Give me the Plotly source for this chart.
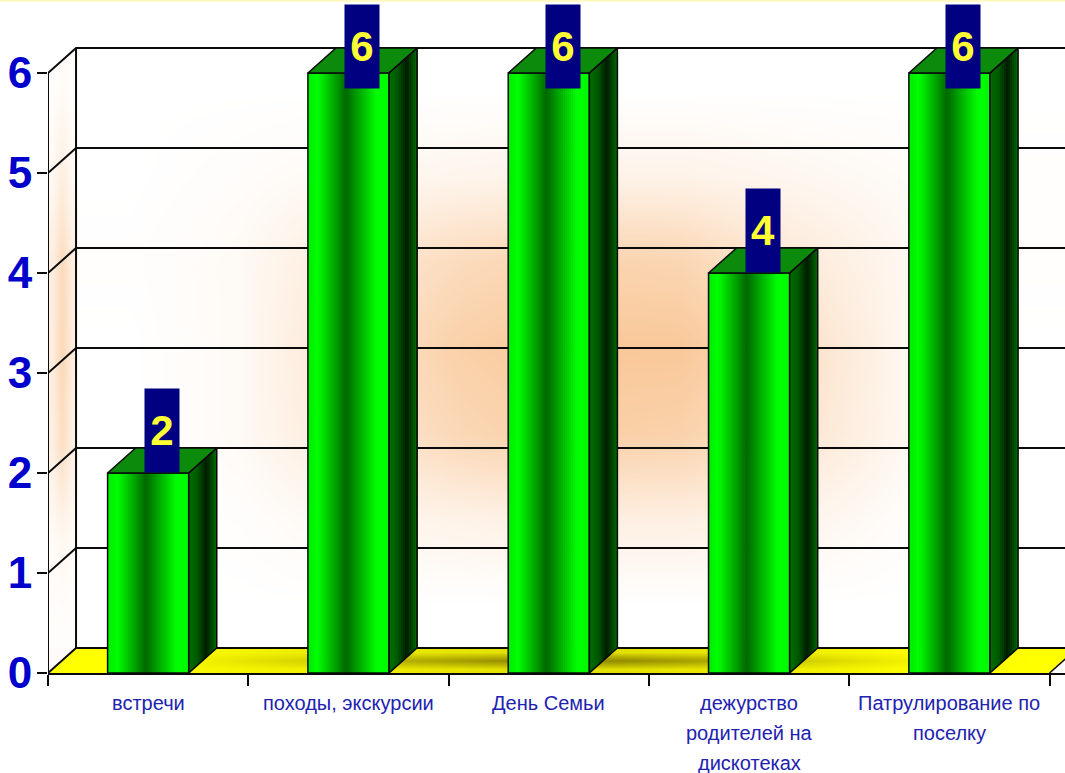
import numpy as np
import plotly.graph_objects as go

categories = ["встречи", "походы, экскурсии", "День Семьи",
              "дежурство<br>родителей на<br>дискотеках", "Патрулирование по<br>поселку"]
values = [2, 6, 6, 4, 6]
y_ticks = [0, 1, 2, 3, 4, 5, 6]

# hand-estimated glow on the back wall, bottom row first
wall_glow = [
    [0.00, 0.00, 0.00, 0.00, 0.00, 0.00, 0.00, 0.00, 0.00],
    [0.00, 0.03, 0.15, 0.22, 0.28, 0.28, 0.20, 0.05, 0.00],
    [0.00, 0.10, 0.42, 0.72, 0.88, 0.82, 0.50, 0.15, 0.00],
    [0.00, 0.10, 0.50, 0.85, 1.00, 1.00, 0.60, 0.15, 0.00],
    [0.02, 0.10, 0.40, 0.65, 0.80, 0.75, 0.40, 0.15, 0.02],
    [0.00, 0.05, 0.12, 0.18, 0.22, 0.22, 0.15, 0.08, 0.02],
    [0.00, 0.00, 0.00, 0.00, 0.00, 0.00, 0.00, 0.00, 0.00],
]
left_glow = [[0.0, 0.0, 0.0], [0.05, 0.10, 0.05], [0.25, 0.55, 0.25], [0.3, 0.7, 0.3],
             [0.3, 0.65, 0.3], [0.1, 0.3, 0.1], [0.0, 0.05, 0.0]]
floor_shade = [
    [0.00, 0.05, 0.10, 0.15, 0.20, 0.20, 0.15, 0.08, 0.00, 0.00],
    [0.00, 0.10, 0.30, 0.55, 0.75, 0.75, 0.55, 0.25, 0.03, 0.00],
    [0.00, 0.04, 0.12, 0.15, 0.20, 0.20, 0.15, 0.08, 0.00, 0.00],
]

X0, X1 = -0.5, 4.577
Y1 = 6.73
DX, DY = 0.14, 0.25
BAR_W = 0.405
n = len(categories)
xs = list(range(n))
BLACK = "#0a0a0a"
FONT = "Liberation Sans"
fig = go.Figure()


def hm(x0, x1, y0, y1, z, scale):
    """Heatmap whose cell edges exactly span the given box."""
    rows, cols = len(z), len(z[0])
    return go.Heatmap(x=np.linspace(x0, x1, cols + 1), y=np.linspace(y0, y1, rows + 1), z=z,
                      zmin=0, zmax=1, zsmooth="best", showscale=False, hoverinfo="skip", colorscale=scale)


# ---- base subplot: walls, floor, grid
fig.add_trace(hm(X0 + DX, X1, DY, 6 + DY, wall_glow, [[0, "#ffffff"], [1, "#f9c899"]]))
fig.add_trace(hm(X0, X0 + DX, 0, 6 + DY, left_glow, [[0, "#fffdfb"], [1, "#f9c899"]]))
fig.add_trace(hm(X0, X1 + DX, 0, DY, floor_shade, [[0, "#ffff00"], [1, "#6e6400"]]))
# masks that turn the rectangles into parallelograms
for px, py, col in [([X0, X0 + DX, X0, X0], [6, 6 + DY, 6 + DY, 6], "#ffffff"),
                    ([X0, X0 + DX, X0, X0], [0, DY, DY, 0], "#fdfaf7"),
                    ([X0 + 5, X0 + 5 + DX, X0 + 5 + DX, X0 + 5], [0, DY, 0, 0], "#ffffff")]:
    fig.add_trace(go.Scatter(x=px, y=py, mode="lines", fill="toself", fillcolor=col,
                             line=dict(width=0), hoverinfo="skip", showlegend=False))
for t in y_ticks:
    fig.add_trace(go.Scatter(x=[X0, X0 + DX, X1], y=[t, t + DY, t + DY], mode="lines",
                             line=dict(color=BLACK, width=2), hoverinfo="skip", showlegend=False))
fig.add_trace(go.Scatter(x=[X0 + 5, X0 + 5 + DX], y=[0, DY], mode="lines",
                         line=dict(color=BLACK, width=1.5), hoverinfo="skip", showlegend=False))
fig.add_trace(go.Scatter(x=[X0 + DX, X0 + DX], y=[0 + DY, 6 + DY], mode="lines",
                         line=dict(color=BLACK, width=2), hoverinfo="skip", showlegend=False))
fig.add_trace(go.Scatter(x=[X0, X0], y=[0, 6], mode="lines", cliponaxis=False,
                         line=dict(color=BLACK, width=2), hoverinfo="skip", showlegend=False))

# ---- overlay subplot: bars
front_stops_t = [0, 0.12, 0.47, 0.85, 1]
front_stops_g = [235, 255, 105, 255, 250]
N = 40
for k in range(N):
    t = (k + 0.5) / N
    g = int(np.interp(t, front_stops_t, front_stops_g))
    off = -BAR_W / 2 + BAR_W * k / N
    wid = BAR_W / N * (1.4 if k < N - 1 else 1.0)
    fig.add_trace(go.Bar(x=xs, y=values, width=wid, offset=off, marker=dict(color=f"rgb(0,{g},0)", line_width=0),
                         xaxis="x2", yaxis="y2", hoverinfo="skip", showlegend=False))
fig.add_trace(go.Bar(x=xs, y=values, width=BAR_W, offset=-BAR_W / 2,
                     marker=dict(color="rgba(0,0,0,0)", line=dict(color=BLACK, width=1.5)),
                     xaxis="x2", yaxis="y2", hoverinfo="skip", showlegend=False))

side_stops_t = [0, 0.3, 0.62, 1]
side_stops_g = [110, 90, 28, 110]
S = 14
for i, v in zip(xs, values):
    xr = i + BAR_W / 2
    for k in range(S):
        g = int(np.interp((k + 0.5) / S, side_stops_t, side_stops_g))
        a = DX * k / S
        fa = a / DX * DY
        # each strip runs to the far edge, so later strips overpaint it with no seam
        fig.add_trace(go.Scatter(x=[xr + a, xr + DX, xr + DX, xr + a, xr + a],
                                 y=[fa, DY, v + DY, v + fa, fa], mode="lines", fill="toself",
                                 fillcolor=f"rgb(0,{g},0)", line=dict(width=0),
                                 xaxis="x2", yaxis="y2", hoverinfo="skip", showlegend=False))
    xl = i - BAR_W / 2
    fig.add_trace(go.Scatter(x=[xl, xl + DX, xr + DX, xr, xl], y=[v, v + DY, v + DY, v, v], mode="lines",
                             fill="toself", fillcolor="#0b8a0b", line=dict(color=BLACK, width=1.5),
                             xaxis="x2", yaxis="y2", hoverinfo="skip", showlegend=False))
    fig.add_trace(go.Scatter(x=[xr, xr + DX, xr + DX, xr, xr], y=[0, DY, v + DY, v, 0], mode="lines",
                             line=dict(color=BLACK, width=1.5),
                             xaxis="x2", yaxis="y2", hoverinfo="skip", showlegend=False))

# ---- value labels
for i, v in zip(xs, values):
    fig.add_annotation(x=i + DX / 2, y=min(v, 5.84), xref="x", yref="y", yanchor="bottom", xanchor="center",
                       text=f"<b>{v}</b>", showarrow=False, bgcolor="#000080", width=34, height=83,
                       font=dict(family=FONT, size=42, color="#ffff33"),
                       valign="middle", align="center", borderpad=0)

# ---- category labels, line by line for the wide leading of the original
for i, c in zip(xs, categories):
    for j, line in enumerate(c.split("<br>")):
        fig.add_annotation(x=i, y=0, xref="x", yref="y", yanchor="middle", xanchor="center", text=line,
                           showarrow=False, yshift=-(30 + 30 * j),
                           font=dict(family=FONT, size=20, color="#2222b0"))

fig.update_layout(
    width=1065, height=773, margin=dict(l=48, r=0, t=0, b=100), paper_bgcolor="white", plot_bgcolor="white",
    barmode="overlay", showlegend=False,
    xaxis=dict(domain=[0, 1], range=[X0, X1], tickmode="array", tickvals=[X0 + i for i in range(n + 1)],
               ticktext=[""] * (n + 1), ticks="outside", ticklen=11, tickcolor=BLACK, tickwidth=1.5,
               showgrid=False, zeroline=False, showline=True, linecolor=BLACK, linewidth=2),
    yaxis=dict(domain=[0, 1], range=[0, Y1], tickmode="array", tickvals=y_ticks, ticks="outside", ticklen=10,
               tickcolor=BLACK, tickwidth=1.5, showgrid=False, zeroline=False, showline=False,
               ticklabelstandoff=-4,
               tickfont=dict(family=FONT, size=44, color="#0000cc", weight="bold")),
    xaxis2=dict(overlaying="x", range=[X0, X1], visible=False),
    yaxis2=dict(overlaying="y", range=[0, Y1], visible=False),
    shapes=[dict(type="rect", xref="paper", yref="paper", x0=-0.05, x1=1, y0=0.9975, y1=1,
                 fillcolor="#fff8c0", line_width=0)],
)
fig.write_html("out.html", post_script="document.body.style.margin='0';document.body.style.overflow='hidden';",
               config=dict(displayModeBar=False))
